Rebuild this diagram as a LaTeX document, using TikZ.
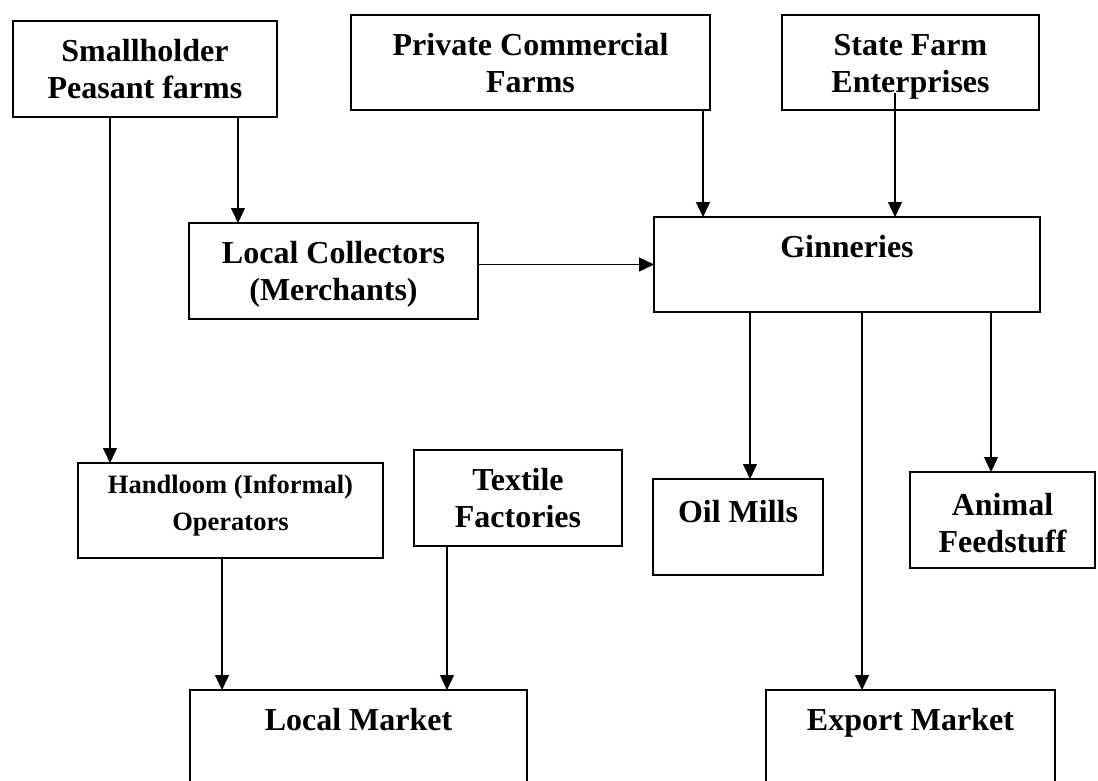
\documentclass[tikz,border=0pt]{standalone}
\usepackage{fontspec}
\setmainfont{Liberation Serif}
\usetikzlibrary{arrows.meta}
\newcommand{\boxtxt}[4][40pt]{\parbox[c][#3][t]{#2}{\centering\rule{0pt}{#1}#4}}

\begin{document}
\begin{tikzpicture}[x=1pt, y=-1pt,
		stage/.style={draw, line width=2pt, inner sep=0pt, outer sep=0pt, anchor=north west,
			font=\fontsize{32}{37}\selectfont\bfseries},
		flow/.style={line width=1.3pt, -{Triangle[length=15pt,width=14pt]}}]
			%%%%% START %%%%%
			
			\clip (0,0) rectangle (1098,780);
			\fill[white] (0,0) rectangle (1098,780);
			
			\node[stage] (small) at (13,21) {\boxtxt{264pt}{96pt}{Smallholder\\Peasant farms}};
			\node[stage] (priv) at (351,15) {\boxtxt{359pt}{95pt}{Private Commercial\\Farms}};
			\node[stage] (state) at (782,15) {\boxtxt{257pt}{95pt}{State Farm\\Enterprises}};
			
			\node[stage] (coll) at (189,223) {\boxtxt{289pt}{96pt}{Local Collectors\\(Merchants)}};
			\node[stage] (gin) at (654,217) {\boxtxt{386pt}{95pt}{Ginneries}};
			
			\node[stage, font=\fontsize{26.5}{37}\selectfont\bfseries] (hand) at (78,463) {\boxtxt[30pt]{305pt}{95pt}{Handloom (Informal)\\Operators}};
			\node[stage] (textile) at (414,450) {\boxtxt{208pt}{96pt}{Textile\\Factories}};
			\node[stage] (oil) at (653,479) {\boxtxt[43pt]{170pt}{96pt}{Oil Mills}};
			\node[stage] (animal) at (910,472) {\boxtxt[43pt]{185pt}{96pt}{Animal\\Feedstuff}};
			
			\node[stage] (local) at (190,690) {\boxtxt{337pt}{110pt}{Local Market}};
			\node[stage] (export) at (766,690) {\boxtxt{289pt}{110pt}{Export Market}};
			
			\draw[flow] ([xshift=97pt]small.south west) -- ([xshift=32pt]hand.north west);
			\draw[flow] ([xshift=225pt]small.south west) -- ([xshift=49pt]coll.north west);
			\draw[flow] ([xshift=-7pt]priv.south east) -- ([xshift=49pt]gin.north west);
			\draw[flow] ([xshift=113pt,yshift=17pt]state.south west) -- ([xshift=241pt]gin.north west);
			\draw[flow] (coll.east |- gin.west) -- (gin.west);
			
			\draw[flow] ([xshift=96pt]gin.south west) -- ([xshift=97pt]oil.north west);
			\draw[flow] ([xshift=208pt]gin.south west) -- ([xshift=96pt]export.north west);
			\draw[flow] ([xshift=337pt]gin.south west) -- ([xshift=81pt]animal.north west);
			
			\draw[flow] ([xshift=144pt]hand.south west) -- ([xshift=32pt]local.north west);
			\draw[flow] ([xshift=33pt]textile.south west) -- ([xshift=257pt]local.north west);
			
			%%%%% END %%%%%
\end{tikzpicture}
\end{document}
